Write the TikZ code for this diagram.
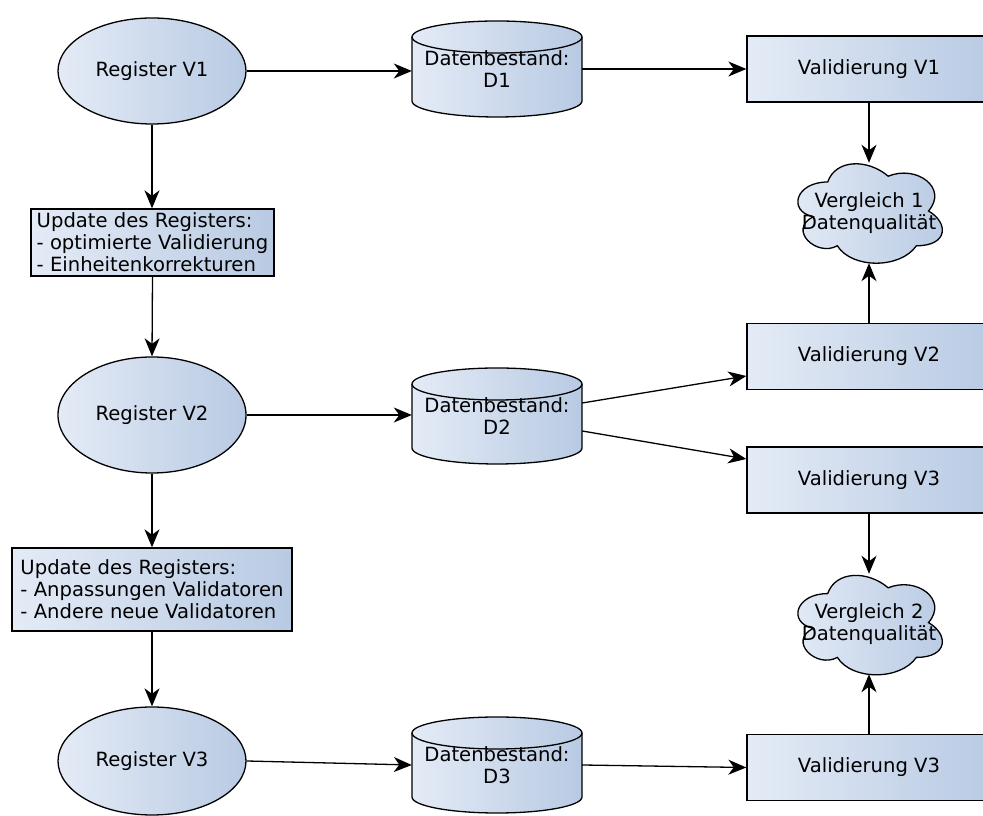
\documentclass[tikz,border=0pt]{standalone}
\usepackage{fontspec}
\setmainfont{DejaVu Sans}
\usetikzlibrary{arrows.meta,shapes.geometric}
\definecolor{gradlight}{RGB}{228,235,246}
\definecolor{graddark}{RGB}{184,202,227}

% database drum: #1,#2 = centre
\newcommand\dbdrum[2]{%
  \shade[grad] (#1-85,#2+32) -- (#1-85,#2-32)
    arc[start angle=180,end angle=360,x radius=85,y radius=16]
    -- (#1+85,#2+32)
    arc[start angle=0,end angle=180,x radius=85,y radius=16] -- cycle;
  \draw[outline] (#1-85,#2+32) -- (#1-85,#2-32)
    arc[start angle=180,end angle=360,x radius=85,y radius=16]
    -- (#1+85,#2+32);
  \draw[outline] (#1,#2+32) ellipse[x radius=85,y radius=16];
}

% cloud outline (168 x 116 frame, narrowed a little): #1,#2 = frame centre
\newcommand\cloudshape[2]{%
  \begin{scope}[shift={(#1,#2)}, xscale=0.96]
  \shadedraw[grad, outline] (-42,29)
    .. controls (-75.6,29) and (-84,0) .. (-57.12,-5.8)
    .. controls (-84,-18.56) and (-53.76,-46.4) .. (-31.92,-34.8)
    .. controls (-16.8,-58) and (33.6,-58) .. (50.4,-34.8)
    .. controls (84,-34.8) and (84,-11.6) .. (63,0)
    .. controls (84,23.2) and (50.4,46.4) .. (21,34.8)
    .. controls (0,52.2) and (-33.6,52.2) .. (-42,29) -- cycle;
  \end{scope}
}

\tikzset{
  grad/.style={left color=gradlight, right color=graddark},
  outline/.style={draw=black, line width=1.3pt},
  txt/.style={font=\fontsize{19.6}{22}\selectfont, text=black},
  register/.style={ellipse, grad, outline, txt, minimum width=188, minimum height=106, inner sep=0pt},
  updatebox/.style={rectangle, grad, outline, txt, align=left, inner sep=0pt},
  valbox/.style={rectangle, grad, outline, txt, minimum width=244, minimum height=66, inner sep=0pt},
  dbnode/.style={rectangle, txt, align=center, minimum width=170, minimum height=96, inner sep=0pt},
  cloudnode/.style={rectangle, txt, align=center, minimum width=146, minimum height=100, inner sep=0pt},
  flow/.style={line width=1.3pt, -{Stealth[length=18pt, width=15pt, inset=5.5pt]}},
}

\begin{document}
\begin{tikzpicture}[x=1pt,y=1pt]
\useasboundingbox (0,0) rectangle (983,816);

% registers (left column)
\node[register] (reg1) at (152,745) {Register V1};
\node[register, minimum height=116] (reg2) at (152,401) {Register V2};
\node[register, minimum height=108] (reg3) at (152,55) {Register V3};

% register updates
\node[updatebox, minimum width=243, minimum height=67] (upd1) at (152.5,573.5)
  {Update des Registers:\\- optimierte Validierung\\- Einheitenkorrekturen};
\node[updatebox, minimum width=280, minimum height=83] (upd2) at (152,226.5)
  {Update des Registers:\\- Anpassungen Validatoren\\- Andere neue Validatoren};

% data sets
\dbdrum{497}{747}
\node[dbnode] (db1) at (497,747) {Datenbestand:\\D1};
\dbdrum{497}{400}
\node[dbnode] (db2) at (497,400) {Datenbestand:\\D2};
\dbdrum{497}{51}
\node[dbnode] (db3) at (497,51) {Datenbestand:\\D3};

% validations (right column)
\node[valbox] (val1) at (869,747) {Validierung V1};
\node[valbox] (val2) at (869,459.5) {Validierung V2};
\node[valbox] (val3) at (869,336) {Validierung V3};
\node[valbox] (val4) at (869,48.5) {Validierung V3};

% comparisons
\cloudshape{868}{605}
\node[cloudnode] (cmp1) at (869,603) {Vergleich 1\\Datenqualität};
\cloudshape{868}{193.4}
\node[cloudnode] (cmp2) at (869,192) {Vergleich 2\\Datenqualität};

% connectors
\draw[flow] (reg1.east) -- (reg1.east -| db1.west);
\draw[flow] (db1.east) -- (val1.west);
\draw[flow] (val1.south) -- (val1.south |- cmp1.north);
\draw[flow] (val2.north) -- (val2.north |- cmp1.south);

\draw[flow] (reg1.south) -- (reg1.south |- upd1.north);
\draw[flow] (upd1.south) -- (reg2.north);
\draw[flow] (reg2.east) -- (reg2.east -| db2.west);
\draw[flow] ([yshift=13pt]db2.east) -- ([yshift=-19.5pt]val2.west);
\draw[flow] ([yshift=-15pt]db2.east) -- ([yshift=21pt]val3.west);
\draw[flow] (val3.south) -- (val3.south |- cmp2.north);

\draw[flow] (reg2.south) -- (upd2.north);
\draw[flow] (upd2.south) -- (reg3.north);
\draw[flow] (reg3.east) -- (db3.west);
\draw[flow] (db3.east) -- (val4.west);
\draw[flow] (val4.north) -- (val4.north |- cmp2.south);
\end{tikzpicture}
\end{document}
